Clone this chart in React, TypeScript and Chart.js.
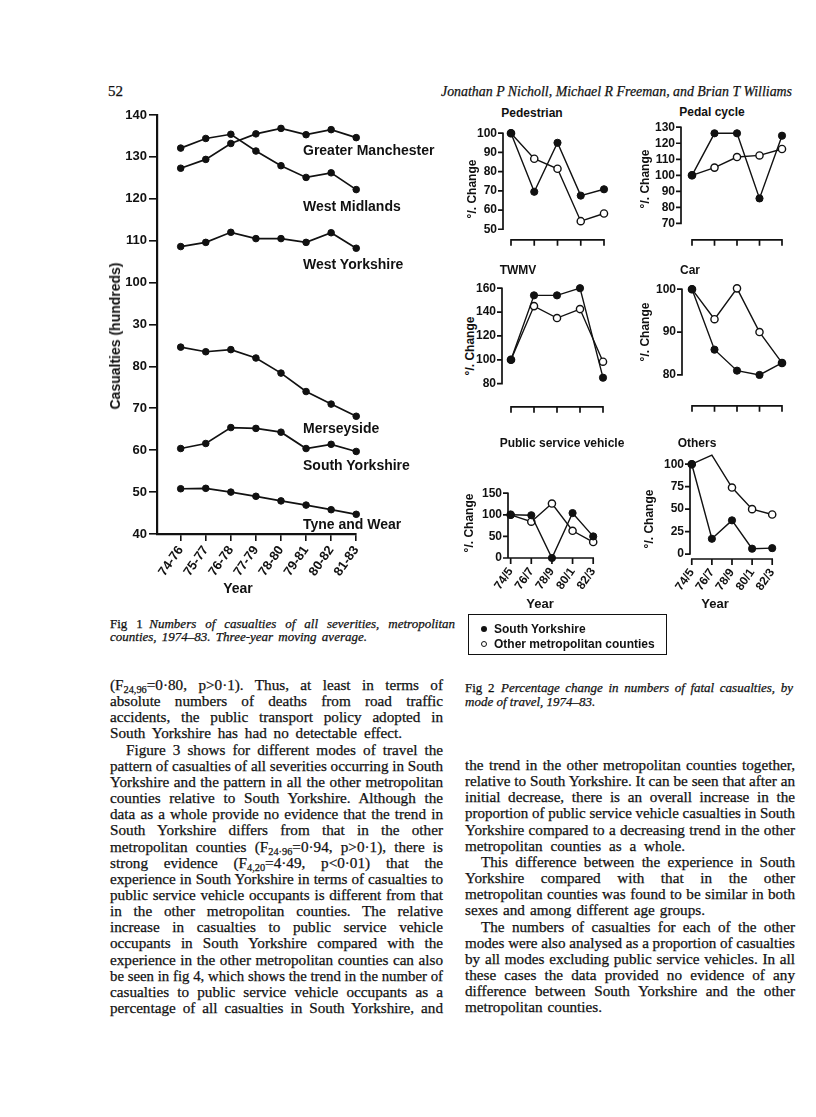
import React, { useEffect, useLayoutEffect, useRef } from 'react';
import { Chart, registerables } from 'chart.js';
Chart.register(...registerables);

// ---------------- Fig 1 data ----------------
const fig1Periods = ['74-76', '75-77', '76-78', '77-79', '78-80', '79-81', '80-82', '81-83'];
const fig1YTicks = [40, 50, 60, 70, 80, 90, 100, 110, 120, 130, 140];
const fig1YTickLabels = ['40', '50', '60', '70', '80', '30', '100', '110', '120', '130', '140'];
const fig1SeriesNames = ['Greater Manchester', 'West Midlands', 'West Yorkshire', 'Merseyside', 'South Yorkshire', 'Tyne and Wear'];
const greaterManchester = [127.3, 129.4, 133.2, 135.5, 136.8, 135.3, 136.5, 134.6];
const westMidlands = [132.1, 134.4, 135.4, 131.4, 127.9, 125.1, 126.2, 122.2];
const westYorkshire = [108.6, 109.6, 112.0, 110.5, 110.5, 109.6, 111.9, 108.2];
const merseyside = [84.6, 83.5, 84.0, 82.0, 78.4, 74.0, 71.0, 68.1];
const southYorkshire = [60.4, 61.6, 65.4, 65.2, 64.3, 60.4, 61.4, 59.7];
const tyneAndWear = [50.8, 50.9, 50.0, 49.0, 47.9, 46.9, 45.8, 44.7];

// ---------------- Fig 2 data ----------------
const fig2Years = ['74/5', '76/7', '78/9', '80/1', '82/3'];
const fig2LegendLabels = ['South Yorkshire', 'Other metropolitan counties'];
const pedestrianSY = [100, 69.5, 95, 67.5, 70.8];
const pedestrianOther = [100, 86.7, 81.5, 54.2, 58.2];
const pedalSY = [100, 126.2, 126.2, 85.6, 124.7];
const pedalOther = [100, 104.8, 111.4, 112.4, 116.4];
const twmvSY = [100, 154, 154, 160, 85];
const twmvOther = [100, 145, 135, 142.5, 98.4];
const carSY = [100, 85.9, 81.0, 80.0, 82.8];
const carOther = [100, 93.0, 100.2, 90, 82.8];
const psvSY = [100, 99, 0, 104, 50];
const psvOther = [100, 84, 126, 63, 37];
const othersSY = [100, 17, 37.5, 6, 6.6];
const othersOther = [100, 110, 74, 50, 44];
const pedestrianTicks = [100, 90, 80, 70, 60, 50];
const pedalTicks = [130, 120, 110, 100, 90, 80, 70];
const twmvTicks = [160, 140, 120, 100, 80];
const carTicks = [100, 90, 80];
const psvTicks = [150, 100, 50, 0];
const othersTicks = [100, 75, 50, 25, 0];

// ---------------- Text ----------------
const headerPage = '52';
const headerAuthors = 'Jonathan P Nicholl, Michael R Freeman, and Brian T Williams';
const fig1CaptionLabel = 'Fig 1';
const fig1CaptionLines = ['Numbers of casualties of all severities, metropolitan', 'counties, 1974–83. Three-year moving average.'];
const fig2CaptionLabel = 'Fig 2';
const fig2CaptionLines = ['Percentage change in numbers of fatal casualties, by', 'mode of travel, 1974–83.'];
const leftColumnLines = [
  '(F_{24,96}=0·80, p>0·1). Thus, at least in terms of',
  'absolute numbers of deaths from road traffic',
  'accidents, the public transport policy adopted in',
  'South Yorkshire has had no detectable effect.',
  'Figure 3 shows for different modes of travel the',
  'pattern of casualties of all severities occurring in South',
  'Yorkshire and the pattern in all the other metropolitan',
  'counties relative to South Yorkshire. Although the',
  'data as a whole provide no evidence that the trend in',
  'South Yorkshire differs from that in the other',
  'metropolitan counties (F_{24·96}=0·94, p>0·1), there is',
  'strong evidence (F_{4,20}=4·49, p<0·01) that the',
  'experience in South Yorkshire in terms of casualties to',
  'public service vehicle occupants is different from that',
  'in the other metropolitan counties. The relative',
  'increase in casualties to public service vehicle',
  'occupants in South Yorkshire compared with the',
  'experience in the other metropolitan counties can also',
  'be seen in fig 4, which shows the trend in the number of',
  'casualties to public service vehicle occupants as a',
  'percentage of all casualties in South Yorkshire, and',
];
const rightColumnLines = [
  'the trend in the other metropolitan counties together,',
  'relative to South Yorkshire. It can be seen that after an',
  'initial decrease, there is an overall increase in the',
  'proportion of public service vehicle casualties in South',
  'Yorkshire compared to a decreasing trend in the other',
  'metropolitan counties as a whole.',
  'This difference between the experience in South',
  'Yorkshire compared with that in the other',
  'metropolitan counties was found to be similar in both',
  'sexes and among different age groups.',
  'The numbers of casualties for each of the other',
  'modes were also analysed as a proportion of casualties',
  'by all modes excluding public service vehicles. In all',
  'these cases the data provided no evidence of any',
  'difference between South Yorkshire and the other',
  'metropolitan counties.',
];

const INK = '#111111';
const SANS = '"Liberation Sans", Arial, Helvetica, sans-serif';
const SERIF = '"Liberation Serif", "Times New Roman", serif';
const tickFont = { family: SANS, size: 12, weight: 'bold' as const };
const fig1TickFont = { family: SANS, size: 13, weight: 'bold' as const };

function rich(s: string) {
  const parts = s.split(/_\{([^}]*)\}/);
  return parts.map((t, i) =>
    i % 2 ? (
      <sub key={i} style={{ fontSize: '0.68em', verticalAlign: '-0.3em', lineHeight: 0 }}>{t}</sub>
    ) : (
      <React.Fragment key={i}>{t}</React.Fragment>
    )
  );
}

type LineProps = {
  x: number; y: number; w: number; mode: 'j' | 'n'; size: number; family: string;
  italic?: boolean; lh?: number; children: React.ReactNode;
};

function TextLine({ x, y, w, mode, size, family, italic, lh = 16, children }: LineProps) {
  const ref = useRef<HTMLSpanElement>(null);
  useLayoutEffect(() => {
    const el = ref.current;
    if (!el) return;
    el.style.wordSpacing = '0px';
    el.style.transform = 'none';
    const nat = el.getBoundingClientRect().width;
    if (mode === 'j') {
      const gaps = (el.textContent || '').split(' ').length - 1;
      if (nat < w && gaps > 0) el.style.wordSpacing = `${(w - nat) / gaps}px`;
      else if (nat > w) el.style.transform = `scaleX(${w / nat})`;
    }
  }, [w, mode]);
  return (
    <div
      style={{
        position: 'absolute', left: x, top: y - lh / 2, height: lh, lineHeight: `${lh}px`,
        whiteSpace: 'nowrap', fontFamily: family, fontSize: size, fontStyle: italic ? 'italic' : 'normal', color: INK,
        WebkitTextStroke: '0.25px #111',
      }}
    >
      <span ref={ref} style={{ display: 'inline-block', transformOrigin: '0 50%' }}>{children}</span>
    </div>
  );
}

function Label({ x, y, size = 12, center = false, rotate = false, children }: { x: number; y: number; size?: number; center?: boolean; rotate?: boolean; children: React.ReactNode }) {
  const transform = rotate ? 'translate(-50%,-50%) rotate(-90deg)' : center ? 'translate(-50%,-50%)' : 'translate(0,-50%)';
  return (
    <div style={{ position: 'absolute', left: x, top: y, transform, fontFamily: SANS, fontWeight: 'bold', fontSize: size, whiteSpace: 'nowrap', lineHeight: 1, color: INK }}>
      {children}
    </div>
  );
}

function Fig1Chart() {
  const ref = useRef<HTMLCanvasElement>(null);
  useEffect(() => {
    const series = [greaterManchester, westMidlands, westYorkshire, merseyside, southYorkshire, tyneAndWear];
    const chart = new Chart(ref.current as HTMLCanvasElement, {
      type: 'line',
      data: {
        datasets: series.map((vals, k) => ({
          label: fig1SeriesNames[k],
          data: vals.map((y, i) => ({ x: i, y })),
          borderColor: INK, backgroundColor: INK, borderWidth: 1.7,
          pointRadius: 3.3, pointBackgroundColor: INK, pointBorderColor: INK, pointBorderWidth: 1,
          tension: 0, clip: false as any,
        })),
      },
      options: {
        animation: false, responsive: false, devicePixelRatio: 1, events: [],
        layout: { autoPadding: false, padding: { top: 15, right: 12, bottom: 0, left: 0 } },
        plugins: { legend: { display: false }, tooltip: { enabled: false }, title: { display: false } },
        scales: {
          x: {
            type: 'linear', min: -0.945, max: 7,
            afterBuildTicks: (s: any) => { s.ticks = fig1Periods.map((_, i) => ({ value: i })); },
            afterFit: (s: any) => { s.height = 71; },
            ticks: { autoSkip: false, minRotation: 55, maxRotation: 55, padding: 2, font: fig1TickFont, color: INK, callback: (_v: any, i: number) => fig1Periods[i] },
            grid: { display: true, drawOnChartArea: false, drawTicks: true, tickLength: 7, color: INK, lineWidth: 1.6 },
            border: { display: true, color: INK, width: 2.2 },
          },
          y: {
            type: 'linear', min: 40, max: 140,
            afterBuildTicks: (s: any) => { s.ticks = fig1YTicks.map((v) => ({ value: v })); },
            afterFit: (s: any) => { s.width = 57; },
            ticks: { padding: 2, font: fig1TickFont, color: INK, callback: (_v: any, i: number) => fig1YTickLabels[i] },
            grid: { display: true, drawOnChartArea: false, drawTicks: true, tickLength: 8, color: INK, lineWidth: 1.6 },
            border: { display: true, color: INK, width: 2.2 },
          },
        },
      } as any,
    });
    return () => chart.destroy();
  }, []);
  return <canvas ref={ref} width={271} height={505} style={{ position: 'absolute', left: 100, top: 100, width: 271, height: 505 }} />;
}

type SmallProps = {
  sy: number[]; other: number[]; yTicks: number[]; yMinVal: number;
  yAxisX: number; topPx: number; bottomPx: number; firstTickX: number; lastTickX: number;
  showX: boolean; xFromAxis: boolean;
};

function SmallChart(p: SmallProps) {
  const ref = useRef<HTMLCanvasElement>(null);
  const yW = 42;
  const canvasLeft = p.yAxisX - yW;
  const padTop = 12;
  const padBottom = 10;
  const canvasTop = p.topPx - padTop;
  const xH = p.showX ? 40 : 0;
  const canvasH = p.bottomPx - canvasTop + xH + padBottom;
  const canvasW = p.lastTickX + 8 - canvasLeft;
  useEffect(() => {
    const spacing = (p.lastTickX - p.firstTickX) / 4;
    const xMin = -(p.firstTickX - p.yAxisX) / spacing;
    const xMax = 4 + 8 / spacing;
    const yMax = Math.max(...p.yTicks);
    const yMinTick = Math.min(...p.yTicks);
    const axes = {
      id: 'detachedAxes',
      afterDraw(chart: any) {
        const { ctx, chartArea } = chart;
        const xs = chart.scales.x;
        const ys = chart.scales.y;
        ctx.save();
        ctx.strokeStyle = INK;
        ctx.lineWidth = 1.7;
        ctx.beginPath();
        const ax = chartArea.left;
        const top = ys.getPixelForValue(yMax);
        const bot = p.xFromAxis ? chartArea.bottom : ys.getPixelForValue(yMinTick);
        ctx.moveTo(ax, top - 0.8);
        ctx.lineTo(ax, bot + 0.8);
        p.yTicks.forEach((v) => {
          const py = ys.getPixelForValue(v);
          ctx.moveTo(ax - 5, py);
          ctx.lineTo(ax, py);
        });
        const by = chartArea.bottom;
        const x0 = p.xFromAxis ? ax : xs.getPixelForValue(0) - 0.8;
        ctx.moveTo(x0, by);
        ctx.lineTo(xs.getPixelForValue(4) + 0.8, by);
        for (let i = 0; i < 5; i++) {
          const px = xs.getPixelForValue(i);
          ctx.moveTo(px, by);
          ctx.lineTo(px, by + 6);
        }
        ctx.stroke();
        ctx.restore();
      },
    };
    const chart = new Chart(ref.current as HTMLCanvasElement, {
      type: 'line',
      data: {
        datasets: [
          {
            label: fig2LegendLabels[0], data: p.sy.map((y, i) => ({ x: i, y })),
            borderColor: INK, borderWidth: 1.4, pointRadius: 3.6, pointBackgroundColor: INK, pointBorderColor: INK, pointBorderWidth: 1,
            tension: 0, clip: false as any,
          },
          {
            label: fig2LegendLabels[1], data: p.other.map((y, i) => ({ x: i, y })),
            borderColor: INK, borderWidth: 1.4, pointRadius: 3.6, pointBackgroundColor: '#ffffff', pointBorderColor: INK, pointBorderWidth: 1.4,
            tension: 0, clip: false as any,
          },
        ],
      },
      options: {
        animation: false, responsive: false, devicePixelRatio: 1, events: [],
        layout: { autoPadding: false, padding: { top: padTop, right: 0, bottom: padBottom, left: 0 } },
        plugins: { legend: { display: false }, tooltip: { enabled: false }, title: { display: false } },
        scales: {
          x: {
            type: 'linear', min: xMin, max: xMax, display: p.showX,
            afterBuildTicks: (s: any) => { s.ticks = fig2Years.map((_, i) => ({ value: i })); },
            afterFit: (s: any) => { s.height = xH; },
            ticks: { autoSkip: false, minRotation: 55, maxRotation: 55, padding: 7, font: tickFont, color: INK, callback: (_v: any, i: number) => fig2Years[i] },
            grid: { display: false, drawTicks: false },
            border: { display: false },
          },
          y: {
            type: 'linear', min: p.yMinVal, max: yMax,
            afterBuildTicks: (s: any) => { s.ticks = p.yTicks.map((v) => ({ value: v })); },
            afterFit: (s: any) => { s.width = yW; },
            ticks: { padding: 6, font: tickFont, color: INK },
            grid: { display: false, drawTicks: false },
            border: { display: false },
          },
        },
      } as any,
      plugins: [axes],
    });
    return () => chart.destroy();
  }, []);
  return <canvas ref={ref} width={canvasW} height={canvasH} style={{ position: 'absolute', left: canvasLeft, top: canvasTop, width: canvasW, height: canvasH }} />;
}

export default function App() {
  const leftShort: Record<number, number> = { 3: 292 };
  const leftIndent: Record<number, boolean> = { 4: true };
  const rightShort: Record<number, number> = { 5: 220, 9: 240, 15: 137 };
  const rightIndent: Record<number, boolean> = { 6: true, 10: true };
  return (
    <div style={{ position: 'absolute', left: 0, top: 0, width: 816, height: 1117, background: '#ffffff', overflow: 'hidden' }}>
      {/* Running header */}
      <TextLine x={108} y={91} w={20} mode="n" size={15} family={SERIF}>{headerPage}</TextLine>
      <TextLine x={441} y={91} w={351} mode="j" size={15} family={SERIF} italic>{headerAuthors}</TextLine>

      {/* Fig 1 */}
      <Fig1Chart />
      <Label x={115} y={336} size={14} rotate>Casualties (hundreds)</Label>
      <Label x={238} y={588} size={14} center>Year</Label>
      <Label x={303} y={150} size={14}>{fig1SeriesNames[0]}</Label>
      <Label x={303} y={206} size={14}>{fig1SeriesNames[1]}</Label>
      <Label x={303} y={264} size={14}>{fig1SeriesNames[2]}</Label>
      <Label x={303} y={428} size={14}>{fig1SeriesNames[3]}</Label>
      <Label x={303} y={465} size={14}>{fig1SeriesNames[4]}</Label>
      <Label x={303} y={524} size={14}>{fig1SeriesNames[5]}</Label>

      {/* Fig 1 caption */}
      <TextLine x={110} y={624} w={345} mode="j" size={13} family={SERIF} lh={14}>
        <span style={{ fontStyle: 'normal' }}>{fig1CaptionLabel}</span>{'\u2002'}<i>{fig1CaptionLines[0]}</i>
      </TextLine>
      <TextLine x={110} y={637} w={257} mode="j" size={13} family={SERIF} italic lh={14}>{fig1CaptionLines[1]}</TextLine>

      {/* Fig 2 small multiples */}
      <Label x={532} y={113} center>Pedestrian</Label>
      <Label x={472} y={189} rotate>°/. Change</Label>
      <SmallChart sy={pedestrianSY} other={pedestrianOther} yTicks={pedestrianTicks} yMinVal={44.5}
        yAxisX={503} topPx={132} bottomPx={243} firstTickX={511} lastTickX={604} showX={false} xFromAxis={false} />

      <Label x={712} y={112} center>Pedal cycle</Label>
      <Label x={645} y={179} rotate>°/. Change</Label>
      <SmallChart sy={pedalSY} other={pedalOther} yTicks={pedalTicks} yMinVal={59.8}
        yAxisX={681} topPx={126} bottomPx={243} firstTickX={692} lastTickX={782} showX={false} xFromAxis={false} />

      <Label x={518} y={270} center>TWMV</Label>
      <Label x={470} y={346} rotate>°/. Change</Label>
      <SmallChart sy={twmvSY} other={twmvOther} yTicks={twmvTicks} yMinVal={60.6}
        yAxisX={502} topPx={287} bottomPx={410} firstTickX={511} lastTickX={603} showX={false} xFromAxis={false} />

      <Label x={690} y={270} center>Car</Label>
      <Label x={645} y={332} rotate>°/. Change</Label>
      <SmallChart sy={carSY} other={carOther} yTicks={carTicks} yMinVal={72.8}
        yAxisX={682} topPx={288} bottomPx={409} firstTickX={692} lastTickX={782} showX={false} xFromAxis={false} />

      <Label x={562} y={443} center>Public service vehicle</Label>
      <Label x={469} y={523} rotate>°/. Change</Label>
      <SmallChart sy={psvSY} other={psvOther} yTicks={psvTicks} yMinVal={0}
        yAxisX={508} topPx={492} bottomPx={558} firstTickX={511} lastTickX={604} showX={true} xFromAxis={true} />
      <Label x={540} y={603} size={13} center>Year</Label>

      <Label x={697} y={443} center>Others</Label>
      <Label x={649} y={519} rotate>°/. Change</Label>
      <SmallChart sy={othersSY} other={othersOther} yTicks={othersTicks} yMinVal={-5.5}
        yAxisX={690} topPx={463} bottomPx={559} firstTickX={692} lastTickX={783} showX={true} xFromAxis={false} />
      <Label x={715} y={603} size={13} center>Year</Label>

      {/* Fig 2 legend */}
      <div style={{ position: 'absolute', left: 468, top: 614, width: 199, height: 41, border: `1.6px solid ${INK}`, boxSizing: 'border-box' }} />
      <div style={{ position: 'absolute', left: 481, top: 626, width: 6, height: 6, borderRadius: '50%', background: INK }} />
      <div style={{ position: 'absolute', left: 481, top: 641, width: 6, height: 6, borderRadius: '50%', border: `1.3px solid ${INK}`, boxSizing: 'border-box', background: '#fff' }} />
      <Label x={494} y={629}>{fig2LegendLabels[0]}</Label>
      <Label x={494} y={644}>{fig2LegendLabels[1]}</Label>

      {/* Fig 2 caption */}
      <TextLine x={465} y={688} w={328} mode="j" size={13} family={SERIF} lh={14}>
        <span>{fig2CaptionLabel}</span>{'\u2002'}<i>{fig2CaptionLines[0]}</i>
      </TextLine>
      <TextLine x={465} y={702} w={200} mode="n" size={13} family={SERIF} italic lh={14}>{fig2CaptionLines[1]}</TextLine>

      {/* Body text, left column */}
      {leftColumnLines.map((t, i) => (
        <TextLine key={`l${i}`} x={110 + (leftIndent[i] ? 16 : 0)} y={685 + i * 16.15}
          w={(leftShort[i] ?? 333) - (leftIndent[i] ? 16 : 0)} mode="j" size={15.2} family={SERIF}>
          {rich(t)}
        </TextLine>
      ))}

      {/* Body text, right column */}
      {rightColumnLines.map((t, i) => (
        <TextLine key={`r${i}`} x={465 + (rightIndent[i] ? 16 : 0)} y={765 + i * 16.15}
          w={(rightShort[i] ?? 330) - (rightIndent[i] ? 16 : 0)} mode="j" size={15.2} family={SERIF}>
          {rich(t)}
        </TextLine>
      ))}
    </div>
  );
}
